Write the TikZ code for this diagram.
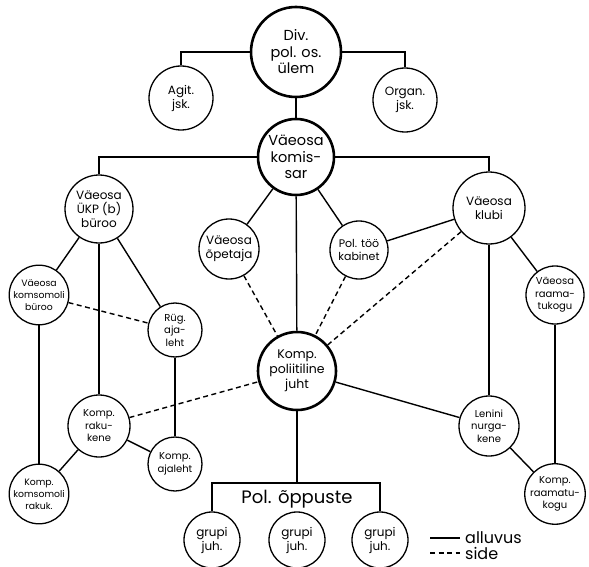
\documentclass[tikz,border=0pt]{standalone}
\usepackage{fontspec}
\setmainfont{Poppins}
\usepackage{tikz}
\usetikzlibrary{positioning}
\tikzset{
  unit/.style={shape=circle,draw=black,line width=1.3pt,inner sep=0pt,align=center,
    font=\fontsize{12}{14}\selectfont},
  chief/.style={unit,line width=2.6pt,font=\fontsize{14.5}{16.5}\selectfont},
  tiny/.style={font=\fontsize{10}{12.5}\selectfont},
  narrow/.style={font=\fontsize{9.3}{12}\selectfont},
  link/.style={line width=1.4pt,draw=black},
  side/.style={link,dash pattern=on 5pt off 3.5pt},
  legend/.style={font=\fontsize{16}{18}\selectfont,inner sep=0pt}
}

\begin{document}
\begin{tikzpicture}[x=1pt,y=-1pt]
    \useasboundingbox (0,0) rectangle (589,567);
    \node[chief,minimum size=90pt] (div) at (296,52) {Div.\\pol. os.\\ülem};
    \node[unit,minimum size=64pt] (agit) at (181,98) {Agit.\\jsk.};
    \node[unit,minimum size=64pt] (organ) at (405,100) {Organ.\\jsk.};
    \node[chief,minimum size=76pt] (komissar) at (296,157) {Väeosa\\komis-\\sar};
    \node[unit,minimum size=68pt] (partbyroo) at (99,209) {Väeosa\\ÜKP (b)\\büroo};
    \node[unit,narrow,minimum size=58pt] (komsbyroo) at (39,295) {Väeosa\\komsomoli\\büroo};
    \node[unit,tiny,minimum size=54pt] (ryg) at (175,330) {Rüg.\\aja-\\leht};
    \node[unit,minimum size=60pt] (opetaja) at (229,249) {Väeosa\\õpetaja};
    \node[unit,minimum size=58pt,font=\fontsize{11}{13.5}\selectfont] (kabinet) at (359,250) {Pol. töö\\kabinet};
    \node[unit,minimum size=72pt] (klubi) at (489,208) {Väeosa\\klubi};
    \node[unit,tiny,minimum size=58pt] (raamat) at (555,295) {Väeosa\\raama-\\tukogu};
    \node[chief,minimum size=78pt,font=\fontsize{12.5}{15}\selectfont] (juht) at (297,371) {Komp.\\poliitiline\\juht};
    \node[unit,tiny,minimum size=62pt] (rakuke) at (99,426) {Komp.\\raku-\\kene};
    \node[unit,tiny,minimum size=54pt] (kompleht) at (175,464) {Komp.\\ajaleht};
    \node[unit,narrow,minimum size=58pt] (komsrakk) at (39,494) {Komp.\\komsomoli\\rakuk.};
    \node[unit,tiny,minimum size=60pt] (lenin) at (489,426) {Lenini\\nurga-\\kene};
    \node[unit,tiny,minimum size=58pt] (komprmt) at (555,494) {Komp.\\raamatu-\\kogu};
    \node[unit,minimum size=56pt] (grupi1) at (212,540) {grupi\\juh.};
    \node[unit,minimum size=56pt] (grupi2) at (297,540) {grupi\\juh.};
    \node[unit,minimum size=56pt] (grupi3) at (380,540) {grupi\\juh.};
    \coordinate (oppl) at (212,483);
    \coordinate (oppr) at (380,483);
    \coordinate (oppm) at (297,483);
    \node[font=\fontsize{18}{20}\selectfont] (oppuste) at (297,499) {Pol. õppuste};
    \coordinate (alluvus1) at (430,538);
    \coordinate (alluvus2) at (460,538);
    \coordinate (side1) at (430,553);
    \coordinate (side2) at (460,553);
    \node[legend,right=5pt of alluvus2] (alluvus) {alluvus};
    \node[legend,right=5pt of side2] (sidetext) {side};
    \begin{scope}
      \draw[link] (div) -| (agit);
      \draw[link] (div) -| (organ);
      \draw[link] (div) -- (komissar);
      \draw[link] (komissar) -| (partbyroo);
      \draw[link] (komissar) -| (klubi);
      \draw[link] (komissar) -- (opetaja);
      \draw[link] (komissar) -- (kabinet);
      \draw[link] (komissar) -- (juht);
      \draw[link] (partbyroo) -- (komsbyroo);
      \draw[link] (partbyroo) -- (ryg);
      \draw[link] (partbyroo) -- (rakuke);
      \draw[link] (komsbyroo) -- (komsrakk);
      \draw[link] (ryg) -- (kompleht);
      \draw[link] (rakuke) -- (kompleht);
      \draw[link] (rakuke) -- (komsrakk);
      \draw[link] (kabinet) -- (klubi);
      \draw[link] (klubi) -- (raamat);
      \draw[link] (klubi) -- (lenin);
      \draw[link] (raamat) -- (komprmt);
      \draw[link] (lenin) -- (komprmt);
      \draw[link] (juht) -- (lenin);
      \draw[link] (juht) -- (oppm);
      \draw[link] (grupi1) -- (oppl) -- (oppr) -- (grupi3);
      \draw[side] (komsbyroo) -- (ryg);
      \draw[side] (opetaja) -- (juht);
      \draw[side] (kabinet) -- (juht);
      \draw[side] (klubi) -- (juht);
      \draw[side] (rakuke) -- (juht);
      \draw[link] (alluvus1) -- (alluvus2);
      \draw[side] (side1) -- (side2);
    \end{scope}
\end{tikzpicture}
\end{document}
